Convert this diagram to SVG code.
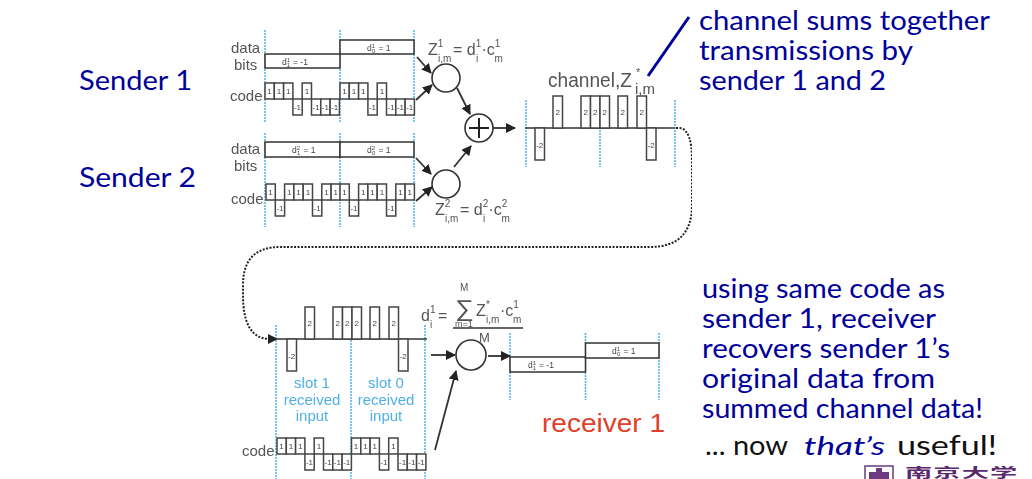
<svg xmlns="http://www.w3.org/2000/svg" width="1032" height="479" viewBox="0 0 1032 479">
<style>
text{font-family:"Liberation Sans",Arial,sans-serif;fill:#555}
.hand{font-family:"Lato","DejaVu Sans",sans-serif;font-size:26px;fill:#00009a}
.blk{fill:#111}
.lab{font-size:15px}
.eq{font-size:16px}
.sm{font-size:10px}
.ch{font-size:8px;text-anchor:middle;fill:#444}
.bit{font-size:8.500px;fill:#444}
.bs{font-size:6px;fill:#444}
.slot{font-size:15px;fill:#4fb0e6;text-anchor:middle}
.box{fill:#fff;stroke:#333;stroke-width:1.500}
.chip{fill:#fff;stroke:#444;stroke-width:1.500}
.grid{stroke:#4fb0e6;stroke-width:1.500;stroke-dasharray:2 1;fill:none}
.base{stroke:#333;stroke-width:1.500;fill:none}
.circ{fill:#fff;stroke:#333;stroke-width:1.600}
.arr{stroke:#333;stroke-width:1.800;fill:none;marker-end:url(#ah)}
</style>
<defs>
<filter id="soft" x="0" y="0" width="1" height="1"><feGaussianBlur stdDeviation="0.35"/></filter>
<marker id="ah" markerUnits="userSpaceOnUse" markerWidth="11" markerHeight="11" refX="9" refY="5" orient="auto"><path d="M0 0L10 5L0 10z" fill="#222"/></marker>
<g id="pat1">
<rect class="chip" x="0" y="-16" width="9.3" height="16"/><text class="ch" x="4.6" y="-5">1</text>
<rect class="chip" x="9.3" y="-16" width="9.3" height="16"/><text class="ch" x="14" y="-5">1</text>
<rect class="chip" x="18.6" y="-16" width="9.3" height="16"/><text class="ch" x="23.3" y="-5">1</text>
<rect class="chip" x="27.9" y="0" width="9.3" height="16"/><text class="ch" x="32.5" y="11">-1</text>
<rect class="chip" x="37.2" y="-16" width="9.3" height="16"/><text class="ch" x="41.9" y="-5">1</text>
<rect class="chip" x="46.5" y="0" width="9.3" height="16"/><text class="ch" x="51.1" y="11">-1</text>
<rect class="chip" x="55.8" y="0" width="9.3" height="16"/><text class="ch" x="60.4" y="11">-1</text>
<rect class="chip" x="65.1" y="0" width="9.3" height="16"/><text class="ch" x="69.7" y="11">-1</text>
</g>
<g id="pat2">
<rect class="chip" x="0" y="-16" width="9.3" height="16"/><text class="ch" x="4.6" y="-5">1</text>
<rect class="chip" x="9.3" y="0" width="9.3" height="16"/><text class="ch" x="14" y="11">-1</text>
<rect class="chip" x="18.6" y="-16" width="9.3" height="16"/><text class="ch" x="23.3" y="-5">1</text>
<rect class="chip" x="27.9" y="-16" width="9.3" height="16"/><text class="ch" x="32.5" y="-5">1</text>
<rect class="chip" x="37.2" y="-16" width="9.3" height="16"/><text class="ch" x="41.9" y="-5">1</text>
<rect class="chip" x="46.5" y="0" width="9.3" height="16"/><text class="ch" x="51.1" y="11">-1</text>
<rect class="chip" x="55.8" y="-16" width="9.3" height="16"/><text class="ch" x="60.4" y="-5">1</text>
<rect class="chip" x="65.1" y="-16" width="9.3" height="16"/><text class="ch" x="69.7" y="-5">1</text>
</g>
<g id="sum">
<line class="base" x1="0" y1="0" x2="150" y2="0"/>
<rect class="chip" x="10" y="0" width="9.5" height="32"/><text class="ch" x="14.7" y="20">-2</text>
<rect class="chip" x="28" y="-32" width="9.5" height="32"/><text class="ch" x="32.7" y="-13">2</text>
<rect class="chip" x="56" y="-32" width="9.5" height="32"/><text class="ch" x="60.7" y="-13">2</text>
<rect class="chip" x="65.5" y="-32" width="9.5" height="32"/><text class="ch" x="70.2" y="-13">2</text>
<rect class="chip" x="75" y="-32" width="9.5" height="32"/><text class="ch" x="79.7" y="-13">2</text>
<rect class="chip" x="93" y="-32" width="9.5" height="32"/><text class="ch" x="97.7" y="-13">2</text>
<rect class="chip" x="112" y="-32" width="9.5" height="32"/><text class="ch" x="116.7" y="-13">2</text>
<rect class="chip" x="121.5" y="0" width="9.5" height="32"/><text class="ch" x="126.2" y="20">-2</text>
</g>
</defs>
<rect width="1032" height="479" fill="#fff"/>

<g id="figure" filter="url(#soft)">
<g id="sender1-wave">
<path class="grid" d="M265 30V123M340 30V123M414 30V123"/>
<text class="lab" x="231" y="53">data</text><text class="lab" x="234" y="70">bits</text><text class="lab" x="230" y="101">code</text>
<rect class="box" x="265" y="54" width="75" height="14"/>
<rect class="box" x="340" y="40" width="74" height="14"/>
<text class="bit" x="282" y="65">d<tspan class="bs" dy="-3">1</tspan><tspan class="bs" dx="-3" dy="5">1</tspan><tspan dy="-2" dx="3">= -1</tspan></text>
<text class="bit" x="367" y="51">d<tspan class="bs" dy="-3">1</tspan><tspan class="bs" dx="-3" dy="5">0</tspan><tspan dy="-2" dx="3">= 1</tspan></text>
<use href="#pat1" x="265" y="99"/><use href="#pat1" x="340" y="99"/>
</g>
<g id="sender2-wave">
<path class="grid" d="M265 133V227M340 133V227M414 133V227"/>
<text class="lab" x="231" y="154">data</text><text class="lab" x="234" y="171">bits</text><text class="lab" x="231" y="204">code</text>
<rect class="box" x="265" y="142" width="75" height="15"/>
<rect class="box" x="340" y="142" width="74" height="15"/>
<text class="bit" x="292" y="153">d<tspan class="bs" dy="-3">2</tspan><tspan class="bs" dx="-3" dy="5">1</tspan><tspan dy="-2" dx="3">= 1</tspan></text>
<text class="bit" x="367" y="153">d<tspan class="bs" dy="-3">2</tspan><tspan class="bs" dx="-3" dy="5">0</tspan><tspan dy="-2" dx="3">= 1</tspan></text>
<use href="#pat2" x="266" y="200"/><use href="#pat2" x="340" y="200"/>
</g>
<g id="mult1">
<circle class="circ" cx="446" cy="78" r="14"/>
<text class="eq" x="428" y="55">Z<tspan class="sm" dy="-8">1</tspan></text><text class="sm" x="438" y="62">i,m</text>
<text class="eq" x="453" y="55">= d<tspan class="sm" dy="-8">1</tspan></text><text class="sm" x="476" y="62">i</text>
<text class="eq" x="481.500" y="55">·c<tspan class="sm" dy="-8">1</tspan></text><text class="sm" x="494.500" y="62">m</text>
</g>
<g id="mult2">
<circle class="circ" cx="446" cy="184" r="14"/>
<text class="eq" x="435" y="215">Z<tspan class="sm" dy="-8">2</tspan></text><text class="sm" x="445" y="222">i,m</text>
<text class="eq" x="460" y="215">= d<tspan class="sm" dy="-8">2</tspan></text><text class="sm" x="483" y="222">i</text>
<text class="eq" x="488.500" y="215">·c<tspan class="sm" dy="-8">2</tspan></text><text class="sm" x="501.500" y="222">m</text>
</g>
<g id="adder">
<circle class="circ" cx="479" cy="128" r="14"/>
<path d="M479 118V138M469 128H489" stroke="#222" stroke-width="2" fill="none"/>
</g>
<g id="channel">
<path class="grid" d="M526 100V167M600 100V167M675 100V167"/>
<use href="#sum" x="525" y="128"/>
<text x="548" y="87" font-size="20" textLength="84" lengthAdjust="spacingAndGlyphs">channel,Z</text>
<text x="636" y="76" font-size="11">*</text>
<text x="635" y="94" font-size="15">i,m</text>
</g>
<g id="received">
<path class="grid" d="M276 325V479M351 325V479M425 325V479"/>
<use href="#sum" x="277" y="339"/>
<text class="slot" x="312" y="388">slot 1</text><text class="slot" x="312" y="405">received</text><text class="slot" x="312" y="421">input</text>
<text class="slot" x="386" y="388">slot 0</text><text class="slot" x="386" y="405">received</text><text class="slot" x="386" y="421">input</text>
<text class="lab" x="242" y="456">code</text>
<use href="#pat1" x="277" y="454"/><use href="#pat1" x="351.500" y="454"/>
</g>
<g id="despread">
<text class="eq" x="421" y="321">d<tspan class="sm" dy="-8">1</tspan></text><text class="sm" x="430" y="328">i</text>
<text class="eq" x="438" y="321">=</text>
<text font-size="23" transform="translate(455 316) scale(1.150 1)">∑</text>
<text x="460" y="291" font-size="10">M</text>
<text x="455" y="327" font-size="9">m=1</text>
<text class="eq" x="476" y="316">Z</text><text class="sm" x="486" y="308">*</text><text class="sm" x="486" y="323">i,m</text>
<text class="eq" x="500" y="316">·c<tspan class="sm" dy="-8">1</tspan></text><text class="sm" x="513" y="323">m</text>
<line class="base" x1="453" y1="328" x2="523" y2="328"/>
<text x="479" y="342" font-size="13">M</text>
<circle class="circ" cx="471" cy="355" r="15"/>
</g>
<g id="recovered">
<path class="grid" d="M510 333V400M585.500 333V400M659 333V400"/>
<rect class="box" x="510" y="357" width="75.500" height="15"/>
<rect class="box" x="585.500" y="343" width="73.500" height="15"/>
<text class="bit" x="528" y="368">d<tspan class="bs" dy="-3">1</tspan><tspan class="bs" dx="-3" dy="5">1</tspan><tspan dy="-2" dx="3">= -1</tspan></text>
<text class="bit" x="612" y="354">d<tspan class="bs" dy="-3">1</tspan><tspan class="bs" dx="-3" dy="5">0</tspan><tspan dy="-2" dx="3">= 1</tspan></text>
</g>
<g id="connectors">
<path class="arr" d="M417 57L431 73"/>
<path class="arr" d="M416 100L432 85"/>
<path class="arr" d="M457 88L470 114"/>
<path class="arr" d="M416 158L431 174"/>
<path class="arr" d="M416 201L432 187"/>
<path class="arr" d="M454 167L471 146"/>
<path class="arr" d="M493 128H515"/>
<path class="arr" d="M431 355H455"/>
<path class="arr" d="M488 356H510"/>
<path class="arr" d="M435 450L456 371"/>
<path d="M676 128H680Q692 130 692 160V205Q692 247 650 247H280Q243 247 243 285V295Q243 339 270 339" fill="none" stroke="#222" stroke-width="2" stroke-dasharray="2 1.500"/>
<path d="M268 334L278 339L268 344z" fill="#222"/>
</g>
</g>

<line id="channel-pointer" x1="689" y1="17" x2="648" y2="76" stroke="#00009a" stroke-width="3"/>
<g id="notes">
<text class="hand" x="79" y="90" textLength="113" lengthAdjust="spacingAndGlyphs">Sender 1</text>
<text class="hand" x="79" y="187" textLength="117" lengthAdjust="spacingAndGlyphs">Sender 2</text>
<text class="hand" x="699" y="30" textLength="291" lengthAdjust="spacingAndGlyphs">channel sums together</text>
<text class="hand" x="699" y="60" textLength="214" lengthAdjust="spacingAndGlyphs">transmissions by</text>
<text class="hand" x="699" y="90" textLength="187" lengthAdjust="spacingAndGlyphs">sender 1 and 2</text>
<text class="hand" x="702" y="298" textLength="243" lengthAdjust="spacingAndGlyphs">using same code as</text>
<text class="hand" x="702" y="328" textLength="234" lengthAdjust="spacingAndGlyphs">sender 1, receiver</text>
<text class="hand" x="702" y="358" textLength="248" lengthAdjust="spacingAndGlyphs">recovers sender 1’s</text>
<text class="hand" x="702" y="388" textLength="233" lengthAdjust="spacingAndGlyphs">original data from</text>
<text class="hand" x="702" y="418" textLength="281" lengthAdjust="spacingAndGlyphs">summed channel data!</text>
<text class="hand blk" x="705" y="455" textLength="83" lengthAdjust="spacingAndGlyphs">... now</text>
<text class="hand" x="804" y="455" font-style="italic" textLength="81" lengthAdjust="spacingAndGlyphs">that’s</text>
<text class="hand blk" x="897" y="455" textLength="100" lengthAdjust="spacingAndGlyphs">useful!</text>
<text x="542" y="432" font-size="26" style="fill:#e0402a" textLength="123" lengthAdjust="spacingAndGlyphs">receiver 1</text>
</g>
<g id="logo">
<path d="M865 479V466H893V479" fill="#fff" stroke="#6b3a80" stroke-width="1.500"/>
<path d="M869 472H889V479H869zM876 468h6v4h-6z" fill="#6b3a80"/>
<text transform="translate(905 477) scale(2.100 1)" font-size="13" letter-spacing="0.500" style="font-family:'Noto Sans CJK SC',sans-serif;fill:#5b2a6e;font-weight:700">南京大学</text>
</g>
</svg>
